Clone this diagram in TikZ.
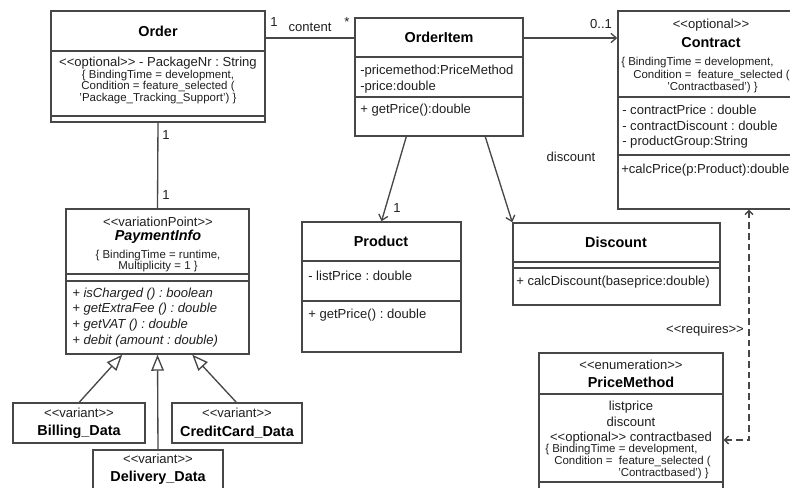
\documentclass[tikz,border=0pt]{standalone}
\usepackage{fontspec}
\setmainfont{Liberation Sans}
\usetikzlibrary{arrows.meta,fit,calc}
\newcommand\sopen{<\kern0pt<}
\newcommand\sclose{>\kern0pt>}
\frenchspacing
\begin{document}
\begin{tikzpicture}[x=0.75pt,y=-0.75pt,
  cls/.style={draw=black!72, line width=1.1pt, inner sep=0pt},
  sep/.style={draw=black!72, line width=1.1pt},
  title/.style={font=\fontsize{10.8}{12}\selectfont\bfseries, text=black, inner sep=0pt},
  txt/.style={font=\fontsize{9.8}{11}\selectfont, text=black!88, inner sep=0pt},
  ltxt/.style={txt, anchor=west},
  con/.style={font=\fontsize{8.6}{8.6}\selectfont, text=black!88, inner sep=0pt, align=center},
  lcon/.style={font=\fontsize{8.6}{8.6}\selectfont, text=black!88, inner sep=0pt, anchor=west},
  assoc/.style={draw=black!72, line width=1pt},
  nav/.style={assoc, -{Straight Barb[length=4pt,width=7pt]}},
  gen/.style={assoc, -{Triangle[open,length=12pt,width=9.5pt,fill=white]}},
  req/.style={assoc, dash pattern=on 5pt off 3pt, {Straight Barb[length=3pt,width=6pt]}-{Straight Barb[length=3pt,width=6pt]}},
]
\useasboundingbox (0,0) rectangle (790,488);
\clip (0,0) rectangle (790,488);

% ---------- Order ----------
\node[cls, fit={(51,11) (265,122)}] (order) {};
\draw[sep] (51,51) -- (265,51);
\draw[sep] (51,116) -- (265,116);
\node[title] (ordert) at (158,31) {Order};
\node[txt] (ordera) at (158,63) {\sopen optional\sclose\ - PackageNr : String};
\node[con] (orderc) at (158,87) {\{ BindingTime = development,\\ Condition = feature\_selected (\\ 'Package\_Tracking\_Support') \}};

% ---------- OrderItem ----------
\node[cls, fit={(355,18) (523,136)}] (orderitem) {};
\draw[sep] (355,57) -- (523,57);
\draw[sep] (355,97) -- (523,97);
\node[title] (orderitemt) at (439,37) {OrderItem};
\node[ltxt] (oia1) at (360,71) {-pricemethod:PriceMethod};
\node[ltxt] (oia2) at (360,87) {-price:double};
\node[ltxt] (oio1) at (360,110) {+ getPrice():double};

% ---------- Contract ----------
\node[cls, fit={(618,11) (802,209)}] (contract) {};
\draw[sep] (618,97) -- (802,97);
\draw[sep] (618,155) -- (802,155);
\node[txt] (contracts) at (711,25) {\sopen optional\sclose};
\node[title] (contractt) at (711,43) {Contract};
\node[lcon] (cc1) at (621,63) {\{ BindingTime = development,};
\node[lcon] (cc2) at (633,76) {Condition =\ \ feature\_selected (};
\node[lcon] (cc3) at (667,88) {'Contractbased') \}};
\node[ltxt] (ca1) at (622,110) {- contractPrice : double};
\node[ltxt] (ca2) at (622,126) {- contractDiscount : double};
\node[ltxt] (ca3) at (622,142) {- productGroup:String};
\node[ltxt] (co1) at (621,170) {+calcPrice(p:Product):double};

% ---------- Product ----------
\node[cls, fit={(302,222) (461,352)}] (product) {};
\draw[sep] (302,261) -- (461,261);
\draw[sep] (302,301) -- (461,301);
\node[title] (productt) at (381,241) {Product};
\node[ltxt] (pa1) at (308,276) {- listPrice : double};
\node[ltxt] (po1) at (308,315) {+ getPrice() : double};

% ---------- Discount ----------
\node[cls, fit={(513,223) (720,305)}] (discount) {};
\draw[sep] (513,262) -- (720,262);
\draw[sep] (513,268) -- (720,268);
\node[title] (discountt) at (616,242) {Discount};
\node[ltxt] (do1) at (516,282) {+ calcDiscount(baseprice:double)};

% ---------- PaymentInfo ----------
\node[cls, fit={(66,209) (249,354)}] (payment) {};
\draw[sep] (66,274) -- (249,274);
\draw[sep] (66,281) -- (249,281);
\node[txt] (payments) at (158,222) {\sopen variationPoint\sclose};
\node[title, font=\fontsize{10.8}{12}\selectfont\bfseries\itshape] (paymentt) at (158,237) {PaymentInfo};
\node[con] (paymentc) at (158,261) {\{ BindingTime = runtime,\\ Multiplicity = 1 \}};
\node[ltxt, font=\fontsize{9.8}{11}\selectfont\itshape] (pio1) at (72,294) {+ isCharged () : boolean};
\node[ltxt, font=\fontsize{9.8}{11}\selectfont\itshape] (pio2) at (72,309) {+ getExtraFee () : double};
\node[ltxt, font=\fontsize{9.8}{11}\selectfont\itshape] (pio3) at (72,325) {+ getVAT () : double};
\node[ltxt, font=\fontsize{9.8}{11}\selectfont\itshape] (pio4) at (72,341) {+ debit (amount : double)};

% ---------- Variants ----------
\node[cls, fit={(13,403) (145,443)}] (billing) {};
\node[txt] (billings) at (79,413) {\sopen variant\sclose};
\node[title] (billingt) at (79,432) {Billing\_Data};
\node[cls, fit={(172,403) (302,443)}] (credit) {};
\node[txt] (credits) at (237,413) {\sopen variant\sclose};
\node[title] (creditt) at (237,432) {CreditCard\_Data};
\node[cls, fit={(93,450) (223,500)}] (delivery) {};
\node[txt] (deliverys) at (158,459) {\sopen variant\sclose};
\node[title] (deliveryt) at (158,478) {Delivery\_Data};

% ---------- PriceMethod ----------
\node[cls, fit={(539,353) (723,500)}] (pricemethod) {};
\draw[sep] (539,394) -- (723,394);
\draw[sep] (539,482) -- (723,482);
\node[txt] (pms) at (631,365) {\sopen enumeration\sclose};
\node[title] (pmt) at (631,382) {PriceMethod};
\node[txt] (pm1) at (631,407) {listprice};
\node[txt] (pm2) at (631,422) {discount};
\node[txt] (pm3) at (631,438) {\sopen optional\sclose\ contractbased};
\node[lcon] (pmc1) at (545,450) {\{ BindingTime = development,};
\node[lcon] (pmc2) at (554,462) {Condition =\ \ feature\_selected (};
\node[lcon] (pmc3) at (618,474) {'Contractbased') \}};

% ---------- Connectors ----------
\draw[assoc] (order.east |- 0,38) -- (orderitem.west |- 0,38);
\node[txt] (m1) at (274,22) {1};
\node[txt] (mcontent) at (310,27) {content};
\node[txt] (mstar) at (347,22) {*};

\draw[nav] (orderitem.east |- 0,38) -- (contract.west |- 0,38);
\node[txt] (m01) at (601,24) {0..1};

\draw[nav] ($(orderitem.south west)+(52,0)$) -- (product.north);
\node[txt] (mp1) at (397,208) {1};
\draw[nav] ($(orderitem.south west)+(131,0)$) -- (discount.north west);
\node[txt] (mdisc) at (571,157) {discount};

\draw[assoc] (order.south) -- (payment.north);
\node[txt] (mo1) at (166,135) {1};
\node[txt] (mo2) at (166,195) {1};

\draw[gen] ($(billing.north west)+(67,0)$) -- ($(payment.south west)+(57,0)$);
\draw[gen] (delivery.north) -- (payment.south);
\draw[gen] ($(credit.north west)+(65,0)$) -- ($(payment.south west)+(127,0)$);

\coordinate (rq) at (749,440);
\draw[req] (pricemethod.east |- rq) -- (rq) -- (contract.south -| rq);
\node[txt] (mreq) at (705,330) {\sopen requires\sclose};
\end{tikzpicture}
\end{document}
